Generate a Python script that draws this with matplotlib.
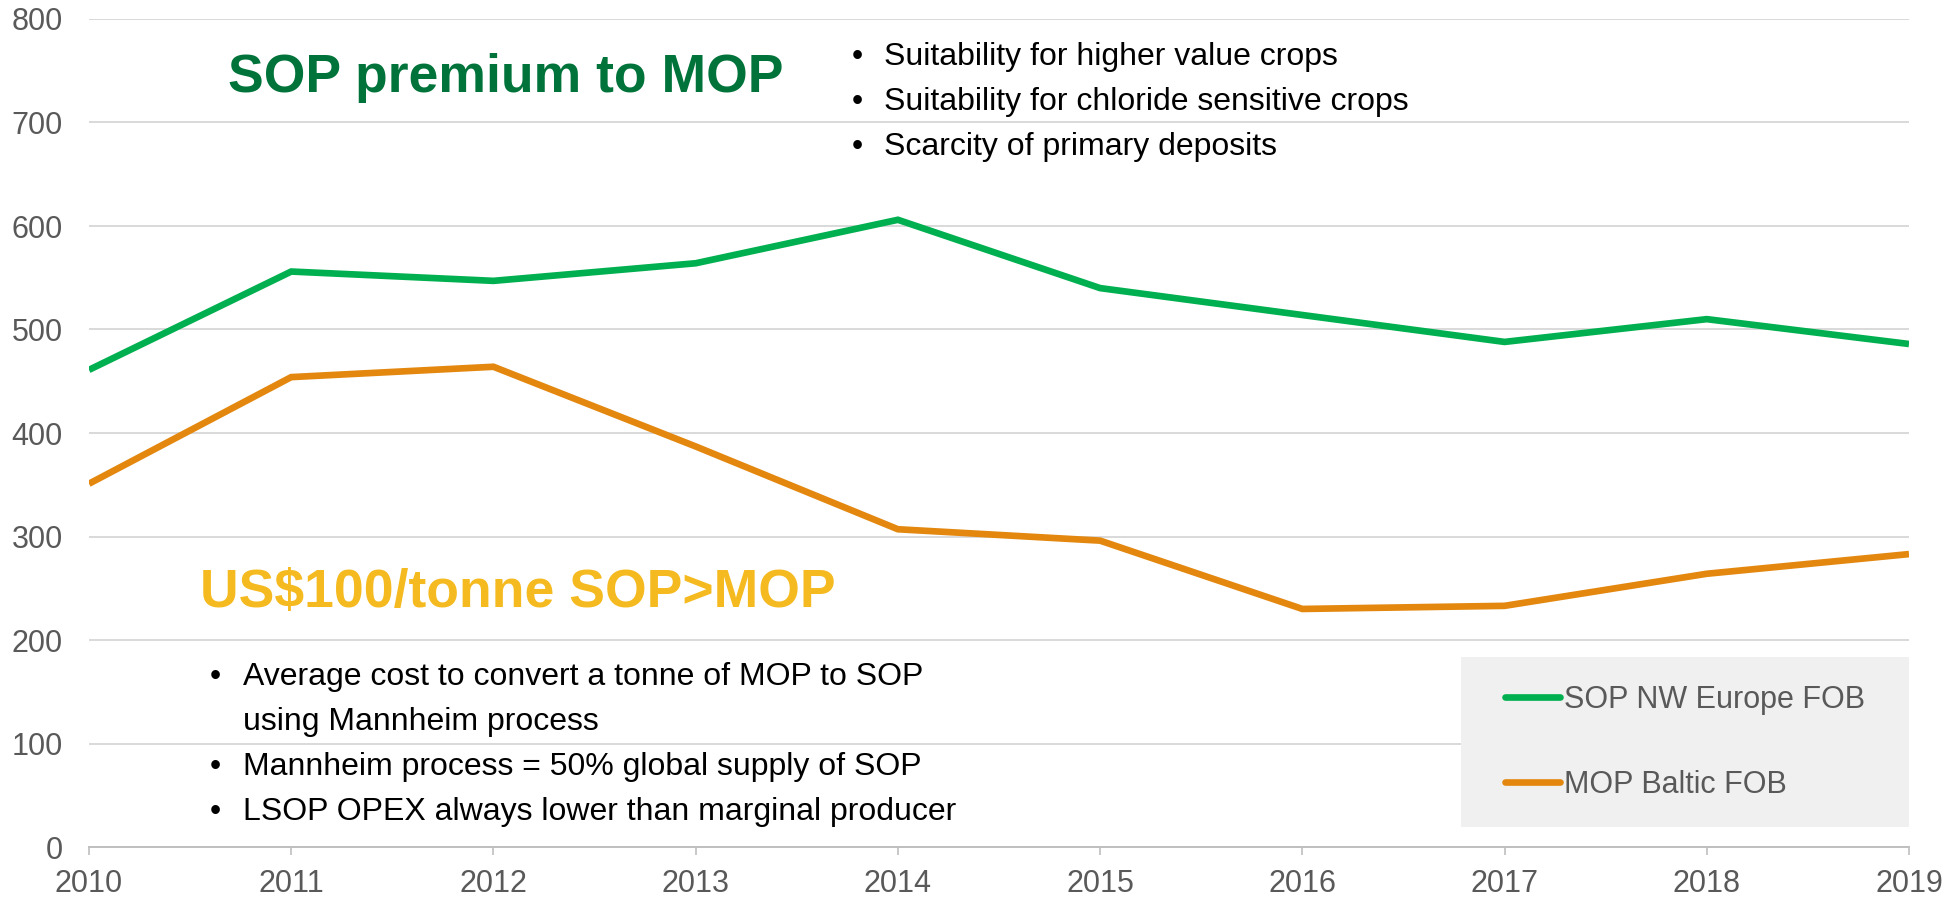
import matplotlib
matplotlib.use('Agg')
import matplotlib.pyplot as plt
from matplotlib.patches import Rectangle

plt.rcParams['font.family'] = ['Liberation Sans', 'DejaVu Sans']

# data (US$/tonne)
years = [2010, 2011, 2012, 2013, 2014, 2015, 2016, 2017, 2018, 2019]
sop_nw_europe = [461, 556, 547, 564, 606, 540, 514, 488, 510, 486]
mop_baltic = [351, 454, 464, 387, 307, 296, 230, 233, 264, 283]
yticks = [0, 100, 200, 300, 400, 500, 600, 700, 800]

top_bullets = ["Suitability for higher value crops",
               "Suitability for chloride sensitive crops",
               "Scarcity of primary deposits"]
bottom_bullets = ["Average cost to convert a tonne of MOP to SOP",
                  "using Mannheim process",
                  "Mannheim process = 50% global supply of SOP",
                  "LSOP OPEX always lower than marginal producer"]

W, H = 1957, 897
fig = plt.figure(figsize=(W / 100, H / 100), dpi=100)
ax = fig.add_axes([89 / W, 50 / H, 1820 / W, 828 / H])

green = '#00B050'
orange = '#E3870F'
grey = '#595959'

ax.plot(years, sop_nw_europe, color=green, lw=4.8, label='SOP NW Europe FOB',
        solid_capstyle='butt', solid_joinstyle='miter', zorder=3)
ax.plot(years, mop_baltic, color=orange, lw=4.8, label='MOP Baltic FOB',
        solid_capstyle='butt', solid_joinstyle='miter', zorder=3)

ax.set_xlim(2010, 2019)
ax.set_ylim(0, 800)
ax.set_xticks(years)
ax.set_yticks(yticks)
ax.set_axisbelow(True)
ax.grid(axis='y', color='#D9D9D9', lw=1.4)
for s in ['top', 'right', 'left']:
    ax.spines[s].set_visible(False)
ax.spines['bottom'].set_color('#BFBFBF')
ax.spines['bottom'].set_linewidth(1.4)
ax.tick_params(axis='x', colors='#BFBFBF', length=5.5, width=1.2, pad=10.5,
               labelsize=22, labelcolor=grey)
ax.tick_params(axis='y', length=0, pad=19, labelsize=22, labelcolor=grey)

# legend box
ax.add_patch(Rectangle((0.754, 0.024), 0.246, 0.205, transform=ax.transAxes,
                       facecolor='#F0F0F0', edgecolor='none', zorder=1.5))
leg = ax.legend(loc='center', bbox_to_anchor=(0.754, 0.024, 0.246, 0.205),
                frameon=False, fontsize=22, handlelength=1.8,
                handletextpad=0.13, labelspacing=1.8)
for t in leg.get_texts():
    t.set_color(grey)
for h in leg.get_lines():
    h.set_solid_capstyle('round')
leg.set_zorder(5)


def px(x, y):
    return x / W, 1 - y / H


fig.text(*px(228, 92), 'SOP premium to MOP', fontsize=38.5, fontweight='bold',
         color='#00733A', va='baseline')
fig.text(*px(200, 607), 'US$100/tonne SOP>MOP', fontsize=38.5, fontweight='bold',
         color='#F5BA20', va='baseline')

for i, line in enumerate(top_bullets):
    y = 65 + 45 * i
    fig.text(*px(852, y), '•', fontsize=23, color='black', va='baseline')
    fig.text(*px(884, y), line, fontsize=23, color='black', va='baseline')

for i, line in enumerate(bottom_bullets):
    y = 685 + 45 * i
    if i != 1:
        fig.text(*px(210, y), '•', fontsize=23, color='black', va='baseline')
    fig.text(*px(243, y), line, fontsize=23, color='black', va='baseline')

fig.savefig('out.png', dpi=100)
